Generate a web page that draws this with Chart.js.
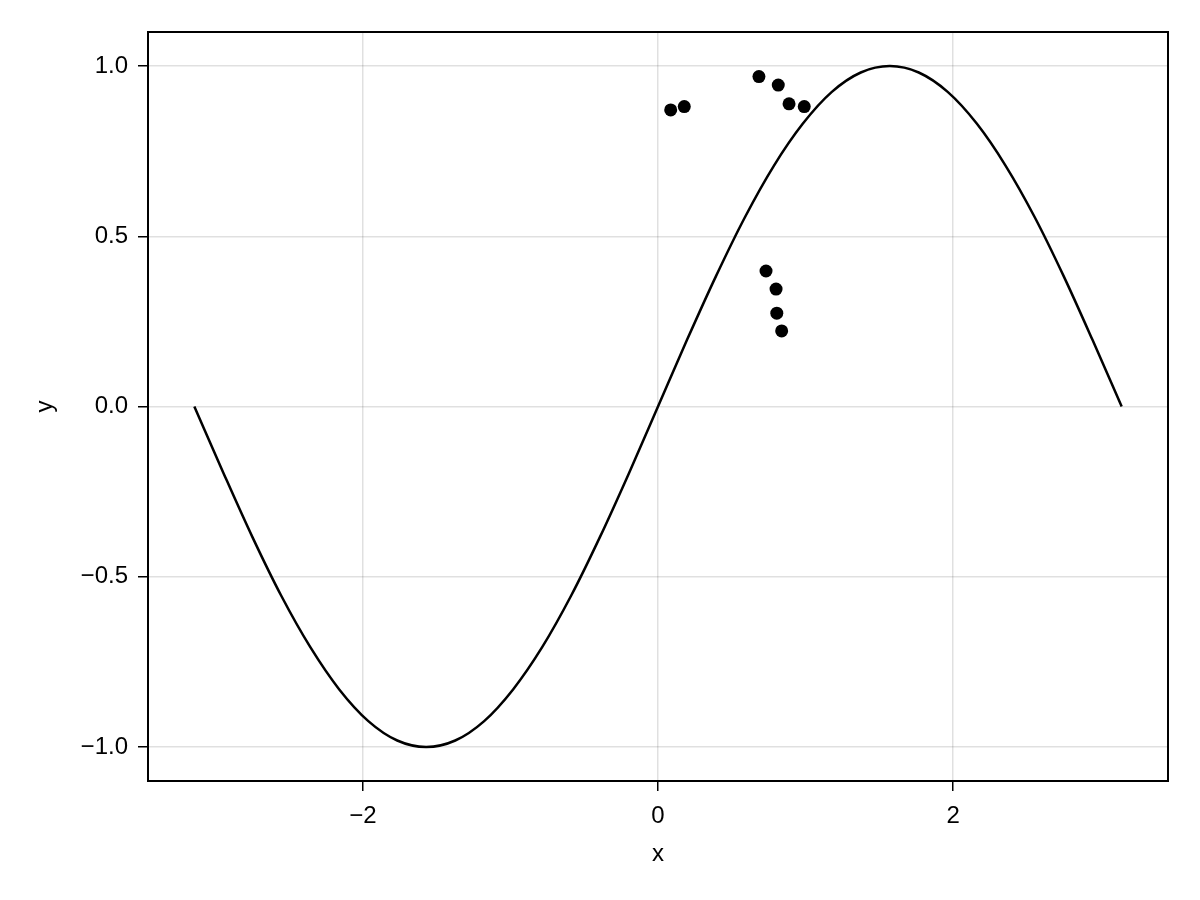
<!DOCTYPE html>
<html>
<head>
<meta charset="utf-8">
<script src="https://cdn.jsdelivr.net/npm/chart.js@4"></script>
<style>
  html, body { margin: 0; padding: 0; background: #fff; }
  canvas { display: block; }
</style>
</head>
<body>
<canvas id="chart" width="1200" height="900"></canvas>
<script>
// curve
var curveX = [-3.142, -2.945, -2.749, -2.553, -2.356, -2.160, -1.963, -1.767, -1.571,
              -1.374, -1.178, -0.982, -0.785, -0.589, -0.393, -0.196, 0.000,
              0.196, 0.393, 0.589, 0.785, 0.982, 1.178, 1.374, 1.571,
              1.767, 1.963, 2.160, 2.356, 2.553, 2.749, 2.945, 3.142];
var curveY = [0.000, -0.195, -0.383, -0.556, -0.707, -0.831, -0.924, -0.981, -1.000,
              -0.981, -0.924, -0.831, -0.707, -0.556, -0.383, -0.195, 0.000,
              0.195, 0.383, 0.556, 0.707, 0.831, 0.924, 0.981, 1.000,
              0.981, 0.924, 0.831, 0.707, 0.556, 0.383, 0.195, 0.000];

// scattered points
var dotX = [0.086, 0.178, 0.684, 0.815, 0.888, 0.991, 0.732, 0.800, 0.805, 0.838];
var dotY = [0.871, 0.881, 0.969, 0.944, 0.889, 0.881, 0.398, 0.345, 0.274, 0.222];

var xTicks = [-2, 0, 2];
var xTickLabels = ['\u22122', '0', '2'];
var yTicks = [-1, -0.5, 0, 0.5, 1];
var yTickLabels = ['\u22121.0', '\u22120.5', '0.0', '0.5', '1.0'];

var curve = curveX.map(function (x, i) { return { x: x, y: curveY[i] }; });
var dots = dotX.map(function (x, i) { return { x: x, y: dotY[i] }; });

var font = { family: "'Liberation Sans', Arial, sans-serif", size: 24 };
var gridColor = 'rgba(0,0,0,0.12)';

// box round the plot area
var frame = {
  id: 'frame',
  afterDraw: function (chart) {
    var a = chart.chartArea, ctx = chart.ctx;
    ctx.save();
    ctx.strokeStyle = '#000';
    ctx.lineWidth = 2;
    ctx.strokeRect(a.left, a.top, a.right - a.left, a.bottom - a.top);
    ctx.restore();
  }
};

new Chart(document.getElementById('chart'), {
  type: 'scatter',
  data: {
    datasets: [
      {
        data: curve,
        showLine: true,
        borderColor: '#000',
        borderWidth: 2.5,
        pointRadius: 0,
        cubicInterpolationMode: 'monotone',
        fill: false
      },
      {
        data: dots,
        backgroundColor: '#000',
        borderColor: '#000',
        borderWidth: 0,
        pointRadius: 6.5
      }
    ]
  },
  options: {
    responsive: false,
    devicePixelRatio: 1,
    animation: false,
    layout: { padding: { top: 32, right: 32, left: 0, bottom: 0 } },
    plugins: { legend: { display: false }, tooltip: { enabled: false } },
    scales: {
      x: {
        type: 'linear',
        min: -3.456,
        max: 3.456,
        afterFit: function (s) { s.height = 119; },
        afterBuildTicks: function (s) { s.ticks = xTicks.map(function (v) { return { value: v }; }); },
        ticks: {
          color: '#000',
          font: font,
          padding: 11,
          maxRotation: 0,
          callback: function (v) { return xTickLabels[xTicks.indexOf(v)]; }
        },
        grid: { color: gridColor, lineWidth: 1.5, tickColor: '#000', tickWidth: 1.5, tickLength: 10 },
        border: { display: false },
        title: { display: true, text: 'x', color: '#000', font: font, padding: { top: 0, bottom: 31 } }
      },
      y: {
        type: 'linear',
        min: -1.1,
        max: 1.1,
        afterFit: function (s) { s.width = 148; },
        afterBuildTicks: function (s) { s.ticks = yTicks.map(function (v) { return { value: v }; }); },
        ticks: {
          color: '#000',
          font: font,
          padding: 10,
          callback: function (v) { return yTickLabels[yTicks.indexOf(v)]; }
        },
        grid: { color: gridColor, lineWidth: 1.5, tickColor: '#000', tickWidth: 1.5, tickLength: 10 },
        border: { display: false },
        title: { display: true, text: 'y', color: '#000', font: font, padding: { top: 31, bottom: 0 } }
      }
    }
  },
  plugins: [frame]
});
</script>
</body>
</html>
